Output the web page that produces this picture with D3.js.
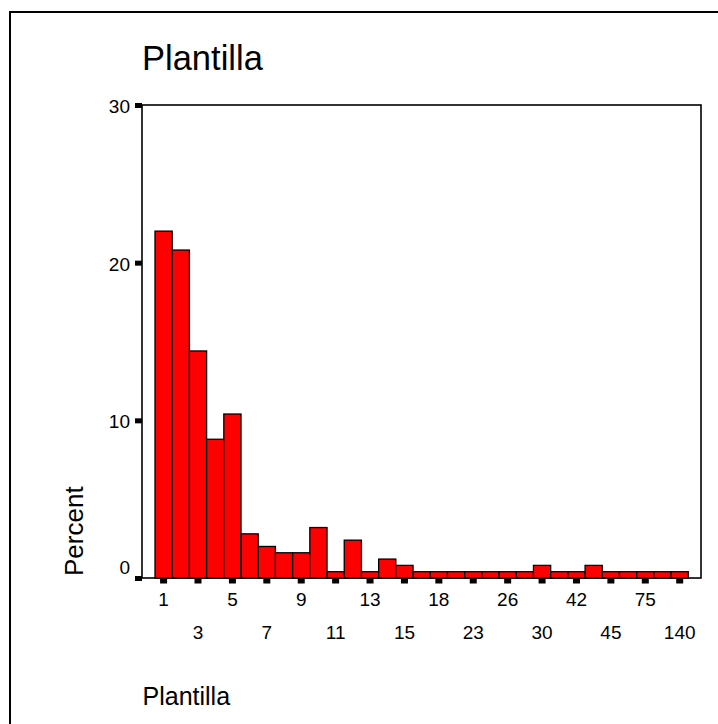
<!DOCTYPE html>
<html>
<head>
<meta charset="utf-8">
<script src="https://cdn.jsdelivr.net/npm/d3@7"></script>
<style>
  html, body { margin: 0; padding: 0; background: #fff; }
  svg { display: block; font-family: "Liberation Sans", Arial, Helvetica, sans-serif; }
</style>
</head>
<body>
<svg id="chart" width="718" height="724"></svg>
<script>
const categories = ["1","2","3","4","5","6","7","8","9","10","11","12","13","14","15","16","18","20","23","25","26","28","30","35","42","44","45","50","75","100","140"];
const percent = [22.0,20.8,14.4,8.8,10.4,2.8,2.0,1.6,1.6,3.2,0.4,2.4,0.4,1.2,0.8,0.4,0.4,0.4,0.4,0.4,0.4,0.4,0.8,0.4,0.4,0.8,0.4,0.4,0.4,0.4,0.4];
const yTicks = [0, 10, 20, 30];
const titleText = "Plantilla";
const xTitle = "Plantilla";
const yTitle = "Percent";

const svg = d3.select("#chart");

// outer border
svg.append("rect").attr("x", 10).attr("y", 12).attr("width", 800).attr("height", 800)
  .attr("fill", "none").attr("stroke", "#000").attr("stroke-width", 2);

const frame = {left: 142, right: 701, top: 105, bottom: 578};

const x = d3.scaleBand().domain(categories).range([155, 688.3]).paddingInner(0).paddingOuter(0);
const y = d3.scaleLinear().domain([0, 30]).range([frame.bottom, frame.top]);

// title
svg.append("text").attr("x", 142).attr("y", 70).attr("font-size", 34.5).attr("fill", "#000").text(titleText);

// plot frame
svg.append("rect").attr("x", frame.left).attr("y", frame.top)
  .attr("width", frame.right - frame.left).attr("height", frame.bottom - frame.top)
  .attr("fill", "none").attr("stroke", "#000").attr("stroke-width", 1.6);

// bars
svg.append("g").selectAll("rect").data(categories).join("rect")
  .attr("x", d => x(d))
  .attr("y", (d, i) => y(percent[i]))
  .attr("width", x.bandwidth())
  .attr("height", (d, i) => y(0) - y(percent[i]))
  .attr("fill", "#ff0000")
  .attr("stroke", "#000")
  .attr("stroke-width", 1.3);

// y axis
const yAxis = d3.axisLeft(y).tickValues(yTicks).tickSize(0).tickPadding(12).tickFormat(d3.format("d"));
const gy = svg.append("g").attr("transform", `translate(${frame.left},0)`).call(yAxis);
gy.select(".domain").remove();
gy.selectAll(".tick text").attr("font-size", 19).attr("font-family", null).attr("fill", "#000")
  .attr("dy", d => d === 0 ? "-0.25em" : "0.4em");
gy.selectAll(".tick").append("rect").attr("x", -7).attr("y", -2.5).attr("width", 7).attr("height", 5).attr("fill", "#000");

// x axis
const labelled = categories.filter((d, i) => i % 2 === 0);
const xAxis = d3.axisBottom(x).tickValues(labelled).tickSize(0).tickPadding(0);
const gx = svg.append("g").attr("transform", `translate(0,${frame.bottom})`).call(xAxis);
gx.select(".domain").remove();
gx.selectAll(".tick text").attr("font-size", 19).attr("font-family", null).attr("fill", "#000")
  .attr("dy", null)
  .attr("y", (d, i) => i % 2 === 0 ? 28 : 61);
gx.selectAll(".tick").append("rect").attr("x", -3.5).attr("y", 1).attr("width", 7).attr("height", 4.5).attr("fill", "#000");

// axis titles
svg.append("text").attr("x", 142.5).attr("y", 705).attr("font-size", 25).attr("fill", "#000").text(xTitle);
svg.append("text").attr("transform", "translate(82.5,576) rotate(-90)").attr("text-anchor", "start")
  .attr("font-size", 26).attr("fill", "#000").text(yTitle);
</script>
</body>
</html>
